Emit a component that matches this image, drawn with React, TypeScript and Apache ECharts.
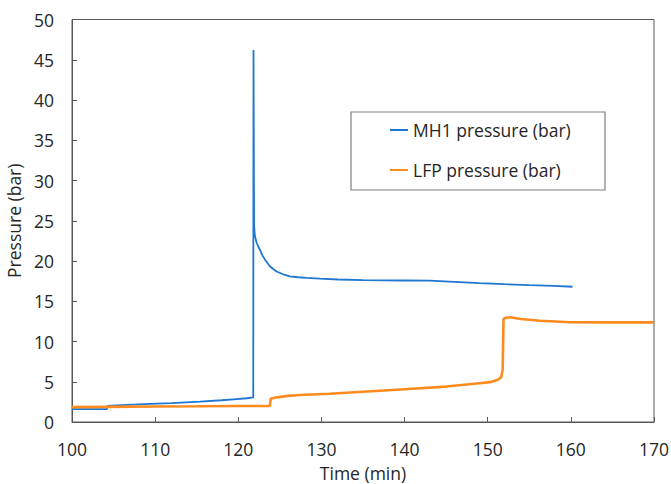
import React, { useEffect, useRef } from "react";
import * as echarts from "echarts";

const xTicks = { min: 100, max: 170, interval: 10 };
const yTicks = { min: 0, max: 50, interval: 5 };

const mh1Name = "MH1 pressure (bar)";
const lfpName = "LFP pressure (bar)";

const mh1Time = [100, 104.2, 104.3, 106, 109.4, 112, 115.4, 118, 119.4, 121, 121.8, 121.83, 121.9, 122.0, 122.2, 122.4, 122.6, 122.9, 123.2, 123.5, 123.8, 124.2, 124.6, 125.4, 126.2, 127.2, 128.2, 129.8, 132, 135, 140, 143, 146, 149, 152, 155, 158, 160.2];
const mh1Pressure = [1.6, 1.6, 2.0, 2.1, 2.24, 2.35, 2.53, 2.7, 2.82, 2.95, 3.07, 46.2, 24.5, 23.1, 22.3, 21.8, 21.4, 20.7, 20.2, 19.75, 19.35, 19.0, 18.7, 18.35, 18.1, 17.98, 17.9, 17.8, 17.7, 17.63, 17.58, 17.55, 17.4, 17.25, 17.12, 17.0, 16.9, 16.8];

const lfpTime = [100, 104, 110, 115, 120, 123.8, 123.9, 124.5, 126, 127.4, 131, 135, 140, 145, 149, 150.3, 151.2, 151.6, 151.8, 151.9, 152.2, 152.7, 154, 156.3, 159.9, 165, 170];
const lfpPressure = [1.85, 1.88, 1.93, 1.95, 1.98, 2.0, 2.9, 3.05, 3.25, 3.36, 3.5, 3.75, 4.07, 4.4, 4.82, 4.95, 5.25, 5.5, 6.5, 12.8, 12.95, 13.02, 12.8, 12.58, 12.4, 12.38, 12.38];

const zip = (xs: number[], ys: number[]) => xs.map((x, i) => [x, ys[i]]);

const FONT = "'Open Sans', sans-serif";
const FS = 17.5;
const TEXT = "#262626";
const AXIS = "#595959";

export default function App() {
  const ref = useRef<HTMLDivElement>(null);
  useEffect(() => {
    if (!ref.current) return;
    const chart = echarts.init(ref.current, undefined, { renderer: "svg" });
    chart.setOption({
      animation: false,
      textStyle: { fontFamily: FONT },
      grid: {
        left: 72,
        right: 17,
        top: 19.5,
        bottom: 62,
        containLabel: false,
        outerBoundsMode: "none",
        show: true,
        borderColor: AXIS,
        borderWidth: 1,
      },
      legend: {
        orient: "vertical",
        left: 390,
        top: 119,
        itemWidth: 18,
        itemHeight: 2,
        itemGap: 18,
        icon: "rect",
        padding: 0,
        textStyle: { fontFamily: FONT, fontSize: FS, color: TEXT, lineHeight: 22 },
        data: [mh1Name, lfpName],
      },
      graphic: [
        {
          type: "rect",
          shape: { x: 351, y: 112, width: 254, height: 78 },
          style: { fill: "#fff", stroke: "#7f7f7f", lineWidth: 1.2 },
          z: -1,
          zlevel: 0,
        },
      ],
      xAxis: {
        type: "value",
        min: xTicks.min,
        max: xTicks.max,
        interval: xTicks.interval,
        name: "Time (min)",
        nameLocation: "middle",
        nameGap: 42,
        nameTextStyle: { fontFamily: FONT, fontSize: FS, color: TEXT },
        axisLine: { show: true, lineStyle: { color: AXIS, width: 1 } },
        axisTick: { show: true, inside: true, length: 5, lineStyle: { color: AXIS } },
        axisLabel: { fontFamily: FONT, fontSize: FS, color: TEXT, margin: 18 },
        splitLine: { show: false },
      },
      yAxis: {
        type: "value",
        min: yTicks.min,
        max: yTicks.max,
        interval: yTicks.interval,
        name: "Pressure (bar)",
        nameLocation: "middle",
        nameGap: 42,
        nameTextStyle: { fontFamily: FONT, fontSize: FS, color: TEXT },
        axisLine: { show: true, lineStyle: { color: AXIS, width: 1 } },
        axisTick: { show: true, inside: true, length: 5, lineStyle: { color: AXIS } },
        axisLabel: { fontFamily: FONT, fontSize: FS, color: TEXT, margin: 18 },
        splitLine: { show: false },
      },
      series: [
        {
          name: mh1Name,
          type: "line",
          data: zip(mh1Time, mh1Pressure),
          showSymbol: false,
          symbol: "none",
          smooth: false,
          lineStyle: { color: "#1f77d0", width: 1.8 },
          itemStyle: { color: "#1f77d0" },
          z: 2,
        },
        {
          name: lfpName,
          type: "line",
          data: zip(lfpTime, lfpPressure),
          showSymbol: false,
          symbol: "none",
          smooth: false,
          lineStyle: { color: "#ff8a1e", width: 2.6 },
          itemStyle: { color: "#ff8a1e" },
          z: 3,
        },
      ],
    });
    return () => chart.dispose();
  }, []);
  return <div ref={ref} style={{ width: 671, height: 484, position: "absolute", left: 0, top: 0 }} />;
}
